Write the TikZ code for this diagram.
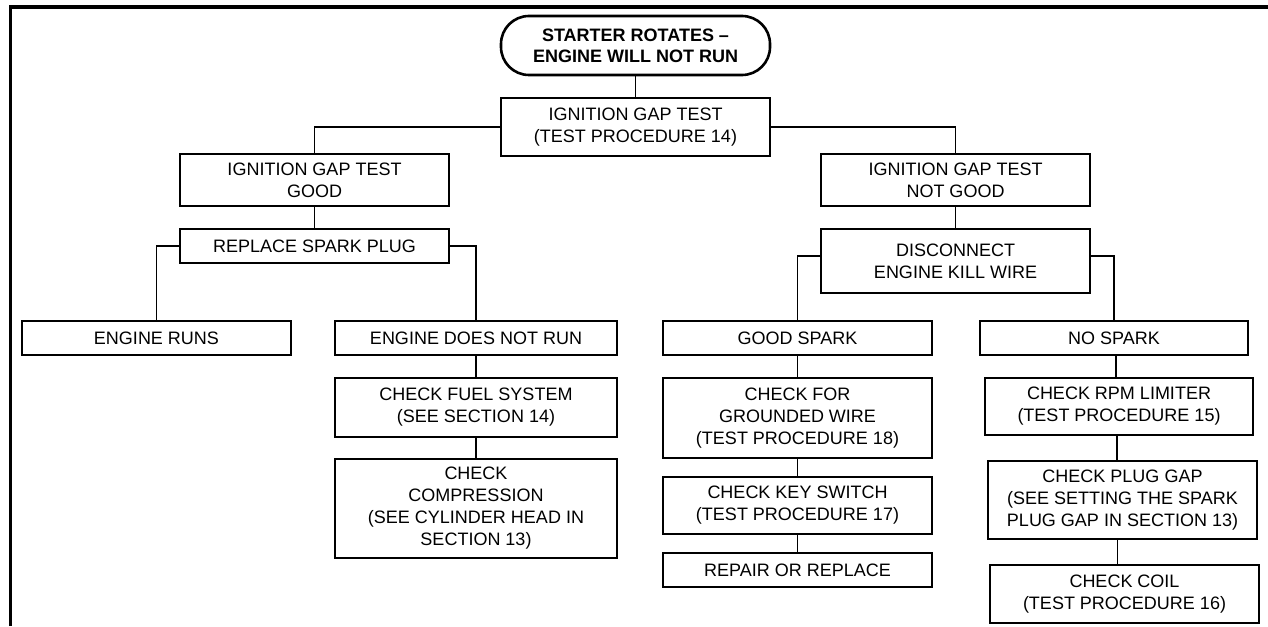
\documentclass[tikz,border=0pt]{standalone}
\usepackage{fontspec}
\setmainfont{Liberation Sans}
\begin{document}
\begin{tikzpicture}[
    x=0.5pt, y=-0.5pt,
    every node/.style={font=\fontsize{9pt}{11pt}\selectfont},
    tbox/.style={rectangle, draw, line width=0.75pt, align=center,
                 inner sep=1pt, minimum width=134.5pt},
    startbox/.style={rectangle, draw, line width=1.3pt, rounded corners=14pt,
                     align=center, minimum width=134.5pt, minimum height=29.5pt,
                     font=\fontsize{9pt}{10.5pt}\selectfont\bfseries},
    link/.style={line width=0.75pt},
]
\useasboundingbox (0,0) rectangle (1268,626);

% frame
\draw[line width=1.8pt] (10.5,626) -- (10.5,7) -- (1268,7);

% top of the tree
\node[startbox] (start) at (635.5,45.5) {STARTER ROTATES --\\ENGINE WILL NOT RUN};
\node[tbox, minimum height=29pt] (gaptest) at (635.5,127) {IGNITION GAP TEST\\(TEST PROCEDURE 14)};

% gap test good
\node[tbox, minimum height=26pt] (good)    at (314.5,180) {IGNITION GAP TEST\\GOOD};
\node[tbox, minimum height=17pt] (replace) at (314.5,246) {REPLACE SPARK PLUG};
\node[tbox, minimum height=17pt] (runs)    at (156.5,338) {ENGINE RUNS};
\node[tbox, minimum height=17pt, minimum width=141pt] (norun) at (476,338) {ENGINE DOES NOT RUN};
\node[tbox, minimum height=29.5pt, minimum width=141pt] (fuel) at (476,407.5) {CHECK FUEL SYSTEM\\(SEE SECTION 14)};
\node[tbox, minimum height=49.5pt, minimum width=141pt] (comp) at (476,508.5) {CHECK\\COMPRESSION\\(SEE CYLINDER HEAD IN\\SECTION 13)};

% gap test not good
\node[tbox, minimum height=26pt] (notgood) at (955.5,180) {IGNITION GAP TEST\\NOT GOOD};
\node[tbox, minimum height=32pt] (killwire) at (955.5,261) {DISCONNECT\\ENGINE KILL WIRE};
\node[tbox, minimum height=17pt] (spark)   at (797.5,338) {GOOD SPARK};
\node[tbox, minimum height=40pt] (ground)  at (797.5,418) {CHECK FOR\\GROUNDED WIRE\\(TEST PROCEDURE 18)};
\node[tbox, minimum height=28.5pt] (keysw)  at (797.5,505.5) {CHECK KEY SWITCH\\(TEST PROCEDURE 17)};
\node[tbox, minimum height=17pt] (repair)  at (797.5,570) {REPAIR OR REPLACE};
\node[tbox, minimum height=17pt, minimum width=134pt] (nospark) at (1114,338) {NO SPARK};
\node[tbox, minimum height=28.5pt, minimum width=134pt] (rpm) at (1119,406.5) {CHECK RPM LIMITER\\(TEST PROCEDURE 15)};
\node[tbox, minimum height=39pt] (plug) at (1122.5,500) {CHECK PLUG GAP\\(SEE SETTING THE SPARK\\PLUG GAP IN SECTION 13)};
\node[tbox, minimum height=29pt] (coil) at (1124.5,594) {CHECK COIL\\(TEST PROCEDURE 16)};

% connectors
\draw[link] (start) -- (gaptest);
\draw[link] (gaptest.west) -| (good.north);
\draw[link] (gaptest.east) -| (notgood.north);
\draw[link] (good) -- (replace);
\draw[link] (replace.west) -| (runs.north);
\draw[link] (replace.east) -| (norun.north);
\draw[link] (norun) -- (fuel);
\draw[link] (fuel) -- (comp);
\draw[link] (notgood) -- (killwire);
\draw[link] ([yshift=2.5pt]killwire.west) -| (spark.north);
\draw[link] ([yshift=2.5pt]killwire.east) -| (nospark.north);
\draw[link] (spark) -- (ground);
\draw[link] (ground) -- (keysw);
\draw[link] (keysw) -- (repair);
\draw[link] ([xshift=1pt]nospark.south) -- ([xshift=1pt]nospark.south |- rpm.north);
\draw[link] ([xshift=-1pt]rpm.south) -- ([xshift=-1pt]rpm.south |- plug.north);
\draw[link] ([xshift=-2.5pt]plug.south) -- ([xshift=-2.5pt]plug.south |- coil.north);

\end{tikzpicture}
\end{document}
